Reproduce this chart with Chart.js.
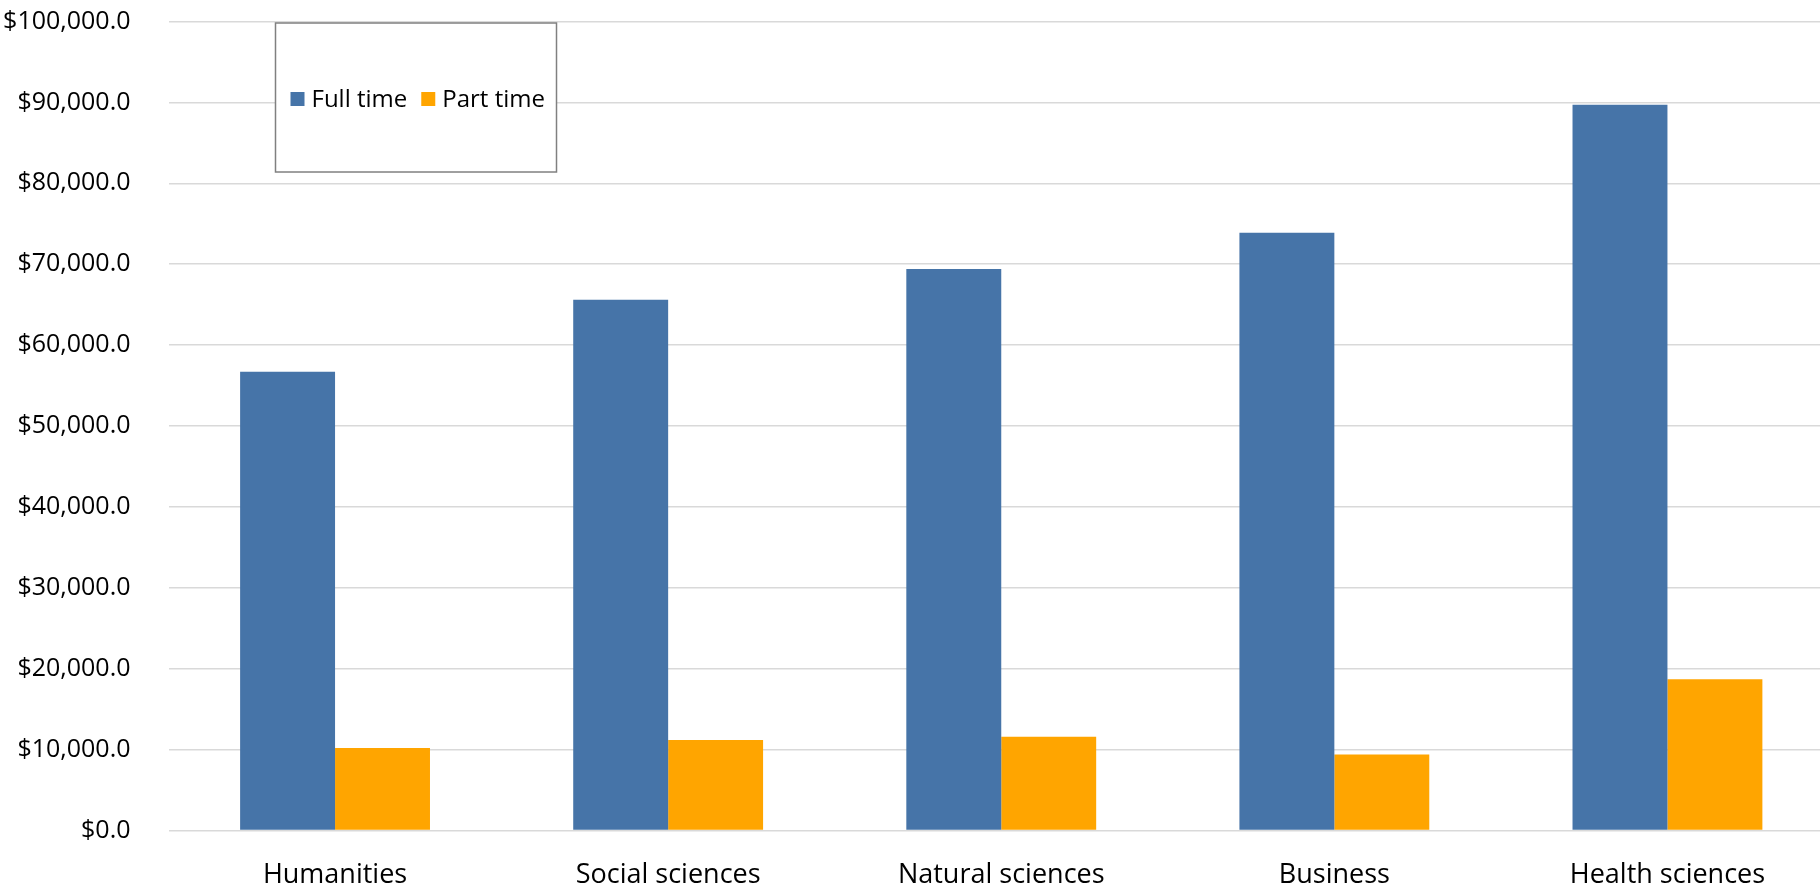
<!DOCTYPE html>
<html>
<head>
<meta charset="utf-8">
<script src="https://cdn.jsdelivr.net/npm/chart.js@4"></script>
<style>
  html, body { margin: 0; padding: 0; background: #fff; overflow: hidden; }
  #wrap { width: 1840px; height: 900px; }
</style>
</head>
<body>
<div id="wrap"><canvas id="chart" width="1840" height="900"></canvas></div>
<script>
// chart data
const categories = ['Humanities', 'Social sciences', 'Natural sciences', 'Business', 'Health sciences'];
const fullTime = [56700, 65600, 69400, 73900, 89700];
const partTime = [10200, 11200, 11600, 9400, 18700];
const seriesNames = ['Full time', 'Part time'];
const yTicks = [0, 10000, 20000, 30000, 40000, 50000, 60000, 70000, 80000, 90000, 100000];

const FONT = '"Open Sans", "Noto Sans", sans-serif';
const BLUE = '#4674a8';
const ORANGE = '#ffa500';

const money = (v) => '$' + v.toLocaleString('en-US', { minimumFractionDigits: 1, maximumFractionDigits: 1 });

// legend box drawn inside the plot, top-left (like the Excel one)
const boxLegend = {
    id: 'boxLegend',
    afterDraw: (chart) => {
        const ctx = chart.ctx;
        const area = chart.chartArea;
        const bx = area.left + 107, by = 23, bw = 281, bh = 149;
        ctx.save();
        ctx.fillStyle = '#fff';
        ctx.fillRect(bx, by, bw, bh);
        ctx.strokeStyle = '#808080';
        ctx.lineWidth = 1.5;
        ctx.strokeRect(bx, by, bw, bh);

        ctx.font = '24px ' + FONT;
        ctx.textBaseline = 'middle';
        ctx.fillStyle = '#000';
        let x = bx + 15;
        const cy = by + 76;
        chart.data.datasets.forEach((ds) => {
            ctx.fillStyle = ds.backgroundColor;
            ctx.fillRect(x, cy - 7, 14, 14);
            x += 21;
            ctx.fillStyle = '#000';
            ctx.fillText(ds.label, x, cy + 1);
            x += ctx.measureText(ds.label).width + 14;
        });
        ctx.restore();
    },
};

new Chart(document.getElementById('chart'), {
    type: 'bar',
    data: {
        labels: categories,
        datasets: [
            { label: seriesNames[0], data: fullTime, backgroundColor: BLUE },
            { label: seriesNames[1], data: partTime, backgroundColor: ORANGE },
        ],
    },
    options: {
        responsive: false,
        animation: false,
        devicePixelRatio: 1,
        layout: { padding: { top: 21.5, right: 6, bottom: 0, left: 0 } },
        datasets: { bar: { categoryPercentage: 0.57, barPercentage: 1.0 } },
        plugins: {
            legend: { display: false },
            tooltip: { enabled: false },
        },
        scales: {
            x: {
                grid: { display: false, drawTicks: false },
                border: { display: false },
                ticks: { color: '#000', font: { family: FONT, size: 27 }, padding: 29, maxRotation: 0 },
                afterFit: (scale) => { scale.height = 69.5; },
            },
            y: {
                min: 0,
                max: 100000,
                afterBuildTicks: (scale) => { scale.ticks = yTicks.map((v) => ({ value: v })); },
                grid: { color: '#d9d9d9', lineWidth: 1.5, drawTicks: false },
                border: { display: false },
                ticks: { color: '#000', font: { family: FONT, size: 25 }, padding: 38, callback: (v) => money(v) },
                afterFit: (scale) => {
                    scale.width = 168.5;
                    scale.paddingTop = 0;
                    scale.paddingBottom = 0;
                },
            },
        },
    },
    plugins: [boxLegend],
});
</script>
</body>
</html>
